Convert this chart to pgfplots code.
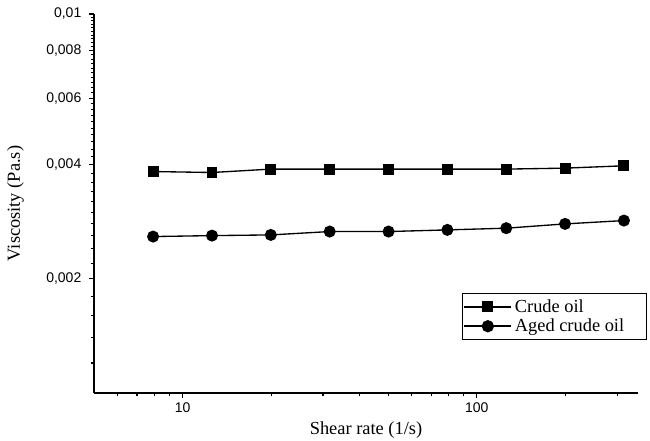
\documentclass[border=0pt]{standalone}
\usepackage{fontspec}
\setmainfont{Liberation Serif}
\setsansfont{Liberation Sans}
\usepackage{pgfplots}
\pgfplotsset{compat=1.18}

\begin{document}
\begin{tikzpicture}[x=0.75pt,y=0.75pt]
  \begin{axis}[
    at={(0,0)}, anchor=south west,
    scale only axis,
    width=408pt, height=284.25pt,
    xmode=log, ymode=log,
    xmin=5, xmax=353, ymin=0.001, ymax=0.01,
    axis x line*=bottom, axis y line*=left,
    axis line style={line width=0.9pt},
    tick align=outside,
    major tick length=4pt, minor tick length=2.5pt,
    tick style={line width=0.8pt, black},
    xtick={10,100},
    minor xtick={6,7,8,9,20,30,40,50,60,70,80,90,200,300},
    ytick={0.002,0.004,0.006,0.008,0.01},
    minor ytick={0.0012,0.0014,0.0016,0.0018,0.0022,0.0024,0.0026,0.0028,0.003,0.0032,0.0034,0.0036,0.0038,
                 0.0042,0.0044,0.0046,0.0048,0.005,0.0052,0.0054,0.0056,0.0058,
                 0.0062,0.0064,0.0066,0.0068,0.007,0.0072,0.0074,0.0076,0.0078,
                 0.0082,0.0084,0.0086,0.0088,0.009,0.0092,0.0094,0.0096,0.0098},
    log ticks with fixed point,
    ticklabel style={font=\sffamily\fontsize{10.5}{12}\selectfont},
    yticklabel style={xshift=-2pt},
    /pgf/number format/.cd, fixed, precision=3, use comma, assume math mode=true,
    /pgfplots/.cd,
    xlabel={Shear rate (1/s)},
    ylabel={Viscosity (Pa.s)},
    label style={font=\rmfamily\fontsize{13.8}{16}\selectfont},
    xlabel style={yshift=0pt},
    ylabel style={yshift=10pt},
    legend style={at={(0.676,0.264)}, anchor=north west, draw=black, line width=0.7pt,
      font=\rmfamily\fontsize{13.8}{15}\selectfont, inner xsep=1pt, inner ysep=2.5pt, row sep=-0.5pt,
      cells={anchor=west}},
    legend image code/.code={
      \draw[mark repeat=2, mark phase=2, #1, line width=1.2pt] plot coordinates {(0cm,0cm) (0.62cm,0cm) (1.24cm,0cm)};
    },
  ]
    \addplot[black, line width=1pt, mark=square*, mark size=3.6pt, mark options={solid}] coordinates {
      (7.94,0.003841) (12.59,0.003818) (19.95,0.003898) (31.62,0.003898) (50.12,0.003898)
      (79.43,0.003898) (125.9,0.003898) (199.5,0.003921) (316.2,0.003977)
    };
    \addlegendentry{Crude oil}
    \addplot[black, line width=1pt, mark=*, mark size=4pt, mark options={solid}] coordinates {
      (7.94,0.002587) (12.59,0.002602) (19.95,0.002613) (31.62,0.002667) (50.12,0.002667)
      (79.43,0.002694) (125.9,0.002722) (199.5,0.002794) (316.2,0.002851)
    };
    \addlegendentry{Aged crude oil\kern14pt}
  \end{axis}
  \pgfresetboundingbox
  \path[use as bounding box] (-94,-48) rectangle (556,393);
\end{tikzpicture}
\end{document}
